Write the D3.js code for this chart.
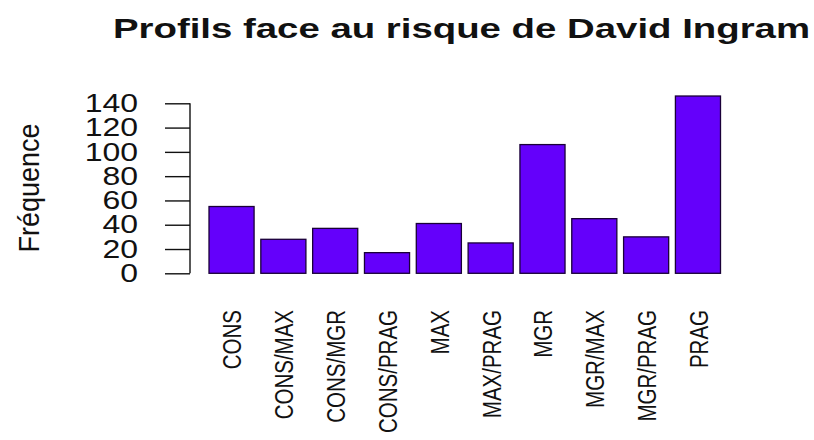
<!DOCTYPE html>
<html>
<head>
<meta charset="utf-8">
<script src="https://cdn.jsdelivr.net/npm/d3@7"></script>
<style>
  html, body { margin: 0; padding: 0; background: #fff; }
  svg { display: block; }
  text { font-family: "Liberation Sans", Arial, Helvetica, sans-serif; fill: #111; }
</style>
</head>
<body>
<svg id="chart" width="814" height="440"></svg>
<script>
// ---- Data ----
const categories = ["CONS", "CONS/MAX", "CONS/MGR", "CONS/PRAG", "MAX", "MAX/PRAG", "MGR", "MGR/MAX", "MGR/PRAG", "PRAG"];
const frequencies = [55, 28, 37, 17, 41, 25, 106, 45, 30, 146];
const yTicks = [0, 20, 40, 60, 80, 100, 120, 140];
const titleText = "Profils face au risque de David Ingram";
const yLabelText = "Fréquence";

// ---- Layout ----
const W = 814, H = 440;
const svg = d3.select("#chart");
svg.append("rect").attr("width", W).attr("height", H).attr("fill", "#fff");

const x = d3.scaleBand()
  .domain(categories)
  .range([209, 720.5])
  .paddingInner(0.13)
  .paddingOuter(0);

const y = d3.scaleLinear()
  .domain([0, 140])
  .range([273.3, 103.3]);

const sx = 1.28; // horizontal stretch of the reference text

// Bars
svg.append("g").selectAll("rect")
  .data(categories)
  .join("rect")
  .attr("x", d => x(d))
  .attr("width", x.bandwidth())
  .attr("y", (d, i) => y(frequencies[i]))
  .attr("height", (d, i) => y(0) - y(frequencies[i]))
  .attr("fill", "#6400fb")
  .attr("stroke", "#1a0038")
  .attr("stroke-width", 1.3);

// Y axis (line + ticks via d3 axis)
const axisX = 190;
const yAxis = d3.axisLeft(y).tickValues(yTicks).tickSize(25).tickFormat("");
const gy = svg.append("g").attr("transform", `translate(${axisX},0)`).call(yAxis);
gy.select(".domain").attr("d", `M-0,${y(0)}V${y(140)}`).attr("stroke", "#111").attr("stroke-width", 1.4);
gy.selectAll(".tick line").attr("stroke", "#111").attr("stroke-width", 1.4);

// Y tick labels (stretched horizontally)
svg.append("g").selectAll("text")
  .data(yTicks)
  .join("text")
  .attr("transform", d => `translate(138,${y(d)}) scale(${sx},1)`)
  .attr("text-anchor", "end")
  .attr("dominant-baseline", "central")
  .attr("font-size", 25)
  .text(d => d);

// X category labels, rotated
svg.append("g").selectAll("text")
  .data(categories)
  .join("text")
  .attr("transform", d => `translate(${x(d) + x.bandwidth() / 2 + 1},310) scale(${sx},1) rotate(-90)`)
  .attr("text-anchor", "end")
  .attr("dominant-baseline", "central")
  .attr("font-size", 20.5)
  .text(d => d);

// Y axis title
svg.append("text")
  .attr("transform", `translate(29,188) scale(1.1,1) rotate(-90)`)
  .attr("text-anchor", "middle")
  .attr("dominant-baseline", "central")
  .attr("font-size", 27)
  .attr("fill", "#222")
  .text(yLabelText);

// Main title
svg.append("text")
  .attr("transform", `translate(461.5,38) scale(1.37,1)`)
  .attr("text-anchor", "middle")
  .attr("font-size", 28)
  .attr("font-weight", "bold")
  .text(titleText);
</script>
</body>
</html>
